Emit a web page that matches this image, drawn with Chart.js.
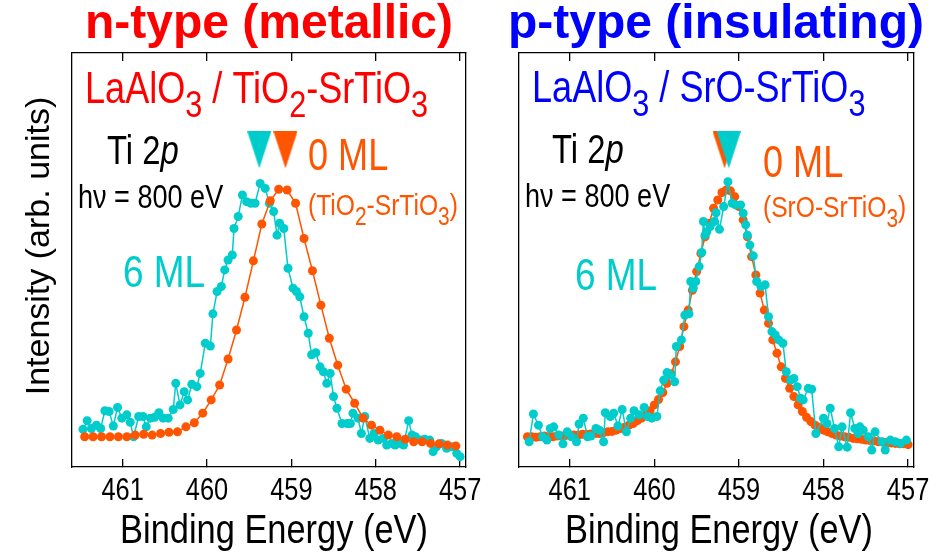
<!DOCTYPE html>
<html>
<head>
<meta charset="utf-8">
<title>Ti 2p XPS</title>
<script src="https://cdn.jsdelivr.net/npm/chart.js@4.4.1/dist/chart.umd.min.js"></script>
<style>
  body { margin: 0; background: #fff; }
  #wrap { position: relative; width: 939px; height: 555px; }
  canvas { position: absolute; top: 0; }
  #leftChart { left: 0; }
  #rightChart { left: 480px; }
</style>
</head>
<body>
<div id="wrap">
  <canvas id="leftChart" width="500" height="555"></canvas>
  <canvas id="rightChart" width="459" height="555"></canvas>
</div>
<script>
'use strict';

// tick labels on the binding energy axis
const energyTicks = [461, 460, 459, 458, 457];

// n-type panel, 0 ML (TiO2-SrTiO3)
const nZeroEnergy = [461.45, 461.35, 461.25, 461.15, 461.05, 460.95, 460.85, 460.75, 460.65, 460.55,
  460.45, 460.35, 460.25, 460.15, 460.05, 459.95, 459.85, 459.75, 459.65, 459.55,
  459.45, 459.35, 459.25, 459.15, 459.05, 458.95, 458.85, 458.75, 458.65, 458.55,
  458.45, 458.35, 458.25, 458.15, 458.05, 457.95, 457.85, 457.75, 457.65, 457.55,
  457.45, 457.35, 457.25, 457.15, 457.05];
const nZeroIntensity = [7.3, 7.3, 7.3, 7.3, 7.3, 7.3, 7.7, 7.9, 7.7, 8.1,
  8.4, 8.5, 9.7, 10.7, 13.0, 16.2, 19.8, 26.1, 33.1, 41.0,
  49.8, 58.7, 64.3, 67.1, 66.9, 63.7, 55.2, 47.4, 39.1, 31.1,
  24.6, 18.8, 15.4, 11.8, 10.1, 8.9, 7.7, 7.3, 6.7, 6.1,
  6.1, 5.7, 5.6, 5.3, 5.1];

// n-type panel, 6 ML LaAlO3
const nSixEnergy = [461.47, 461.42, 461.37, 461.31, 461.26, 461.21, 461.16, 461.11, 461.06, 461.01,
  460.95, 460.91, 460.87, 460.81, 460.76, 460.72, 460.67, 460.62, 460.57, 460.52,
  460.46, 460.40, 460.37, 460.32, 460.27, 460.23, 460.18, 460.12, 460.08, 460.02,
  459.96, 459.93, 459.88, 459.83, 459.79, 459.75, 459.70, 459.68, 459.63, 459.58,
  459.53, 459.48, 459.43, 459.37, 459.31, 459.26, 459.21, 459.17, 459.14, 459.09,
  459.04, 458.98, 458.94, 458.90, 458.85, 458.80, 458.76, 458.71, 458.66, 458.62,
  458.58, 458.54, 458.50, 458.46, 458.40, 458.34, 458.30, 458.27, 458.21, 458.17,
  458.13, 458.07, 458.02, 457.97, 457.91, 457.87, 457.81, 457.77, 457.71, 457.67,
  457.61, 457.57, 457.53, 457.47, 457.42, 457.36, 457.32, 457.28, 457.22, 457.16,
  457.10, 457.04, 457.00];
const nSixIntensity = [9.1, 11.2, 9.3, 10.1, 9.3, 13.6, 13.4, 9.9, 14.4, 11.8,
  12.6, 10.8, 7.3, 12.2, 12.2, 9.7, 11.8, 12.0, 13.1, 11.8,
  11.8, 13.9, 20.2, 15.0, 18.2, 16.2, 20.0, 19.4, 22.6, 29.9,
  29.2, 37.0, 42.4, 43.6, 47.6, 50.0, 51.2, 57.6, 60.5, 65.7,
  64.1, 63.7, 63.7, 68.5, 67.3, 63.7, 61.7, 56.0, 58.9, 57.6,
  48.0, 43.2, 42.4, 41.1, 36.3, 32.3, 27.1, 27.6, 24.2, 23.0,
  20.2, 22.6, 17.0, 14.2, 10.5, 10.5, 10.5, 13.0, 11.8, 8.1,
  12.2, 6.9, 8.1, 6.5, 6.9, 5.3, 5.7, 5.3, 5.7, 5.3,
  11.2, 7.7, 7.3, 6.5, 6.7, 6.5, 3.7, 4.9, 5.7, 4.5,
  4.9, 3.3, 2.5];

// p-type panel, 0 ML (SrO-SrTiO3)
const pZeroEnergy = [461.50, 461.45, 461.40, 461.35, 461.30, 461.25, 461.20, 461.15, 461.10, 461.05,
  461.00, 460.95, 460.90, 460.85, 460.80, 460.75, 460.70, 460.65, 460.60, 460.55,
  460.50, 460.45, 460.40, 460.35, 460.30, 460.25, 460.20, 460.15, 460.10, 460.05,
  460.00, 459.95, 459.90, 459.85, 459.80, 459.75, 459.70, 459.65, 459.60, 459.55,
  459.50, 459.45, 459.40, 459.35, 459.30, 459.25, 459.20, 459.15, 459.10, 459.05,
  459.00, 458.95, 458.90, 458.85, 458.80, 458.75, 458.70, 458.65, 458.60, 458.55,
  458.50, 458.45, 458.40, 458.35, 458.30, 458.25, 458.20, 458.15, 458.10, 458.05,
  458.00, 457.95, 457.90, 457.85, 457.80, 457.75, 457.70, 457.65, 457.60, 457.55,
  457.50, 457.45, 457.40, 457.35, 457.30, 457.25, 457.20, 457.15, 457.10, 457.05,
  457.00];
const pZeroIntensity = [7.3, 7.3, 7.2, 7.3, 7.5, 7.3, 7.3, 7.5, 7.5, 7.6,
  7.7, 7.7, 7.7, 7.9, 7.9, 8.0, 8.1, 8.1, 8.3, 8.5,
  8.6, 8.9, 9.3, 9.6, 10.1, 10.5, 11.2, 11.8, 12.6, 13.6,
  15.0, 16.3, 18.0, 20.2, 22.5, 25.4, 29.1, 33.9, 37.9, 42.7,
  47.2, 51.6, 55.6, 58.9, 62.5, 64.5, 66.3, 66.9, 66.7, 65.3,
  62.9, 59.7, 55.6, 50.8, 46.4, 42.0, 37.9, 34.7, 30.7, 27.5,
  24.2, 21.4, 19.0, 17.0, 15.0, 13.4, 12.0, 11.0, 10.1, 9.6,
  8.9, 8.5, 8.1, 7.7, 7.5, 7.3, 7.2, 6.9, 6.8, 6.7,
  6.5, 6.4, 6.3, 6.1, 6.0, 5.9, 5.8, 5.7, 5.6, 5.6,
  5.4];

// p-type panel, 6 ML LaAlO3
const pSixEnergy = [461.48, 461.43, 461.37, 461.32, 461.27, 461.23, 461.19, 461.13, 461.08, 461.03,
  460.98, 460.92, 460.89, 460.84, 460.79, 460.75, 460.69, 460.65, 460.60, 460.58,
  460.52, 460.48, 460.43, 460.38, 460.33, 460.28, 460.24, 460.18, 460.12, 460.08,
  460.03, 459.97, 459.93, 459.89, 459.85, 459.81, 459.76, 459.74, 459.68, 459.64,
  459.59, 459.57, 459.54, 459.51, 459.47, 459.44, 459.42, 459.40, 459.38, 459.34,
  459.29, 459.27, 459.23, 459.18, 459.13, 459.08, 459.04, 458.98, 458.95, 458.92,
  458.90, 458.87, 458.83, 458.79, 458.74, 458.69, 458.65, 458.61, 458.57, 458.53,
  458.48, 458.44, 458.39, 458.35, 458.31, 458.27, 458.24, 458.18, 458.14, 458.09,
  458.00, 457.96, 457.92, 457.87, 457.82, 457.78, 457.72, 457.68, 457.63, 457.59,
  457.57, 457.53, 457.47, 457.43, 457.39, 457.31, 457.27, 457.21, 457.15, 457.09,
  457.02];
const pSixIntensity = [6.1, 12.8, 10.1, 7.3, 6.5, 9.3, 9.7, 7.7, 5.6, 8.5,
  7.3, 6.1, 10.4, 11.8, 7.3, 7.5, 9.3, 8.9, 6.1, 13.1,
  12.2, 13.0, 9.9, 13.9, 8.5, 11.8, 13.6, 12.6, 14.4, 12.2,
  11.8, 12.2, 18.4, 21.0, 22.8, 22.2, 20.6, 29.1, 30.7, 36.7,
  37.0, 44.8, 43.2, 44.8, 48.4, 51.8, 59.3, 56.0, 56.8, 58.1,
  59.3, 61.4, 57.4, 62.9, 68.9, 63.7, 63.3, 63.3, 61.3, 58.5,
  56.0, 53.6, 51.0, 44.8, 43.6, 44.0, 36.3, 32.7, 31.9, 30.7,
  29.9, 23.0, 21.0, 21.4, 19.4, 16.6, 16.2, 19.0, 18.8, 8.1,
  11.8, 10.5, 14.2, 9.3, 4.9, 9.7, 4.8, 13.1, 9.3, 8.1,
  9.7, 8.9, 7.3, 4.1, 8.5, 6.1, 4.1, 6.5, 6.1, 5.7,
  6.5];

// peak markers: [6 ML, 0 ML] binding energy, and the level they sit at
const nPeakMarks = [459.38, 459.07];
const pPeakMarks = [459.12, 459.17];
const markLevel = 76.6;

const CYAN = '#00cccc';
const ORANGE = '#ff5500';
const SANS = '"Liberation Sans", Arial, sans-serif';
const NARROW_X = 0.82; // horizontal squeeze used to fake a narrow Helvetica

function toPoints(xs, ys) {
  return xs.map((x, i) => ({ x: x, y: ys[i] }));
}

function makeTriangle(color) {
  let c = document.createElement('canvas');
  c.width = 24;
  c.height = 37;
  let g = c.getContext('2d');
  g.fillStyle = color;
  g.beginPath();
  g.moveTo(0, 0);
  g.lineTo(24, 0);
  g.lineTo(12, 37);
  g.closePath();
  g.fill();
  return c;
}

function spectrum(xs, ys, color) {
  return {
    data: toPoints(xs, ys),
    showLine: true,
    borderColor: color,
    backgroundColor: color,
    borderWidth: 1.5,
    pointRadius: 4.5,
    pointBorderWidth: 0,
    pointBackgroundColor: color
  };
}

function marker(x, color) {
  return {
    data: [{ x: x, y: markLevel }],
    showLine: false,
    pointStyle: makeTriangle(color),
    pointRadius: 10,
    backgroundColor: color
  };
}

// draws a line of text made of plain, subscript and italic parts
function drawParts(ctx, item) {
  let weight = item.bold ? 'bold ' : '';
  let sx = item.sx === undefined ? NARROW_X : item.sx;
  let segs = item.parts.map(p => {
    let kind = p[1] || '';
    let size = kind === 'sub' ? item.size * 0.85 : item.size;
    let style = kind === 'i' ? 'italic ' : '';
    return { text: p[0], font: style + weight + size + 'px ' + SANS, dy: kind === 'sub' ? item.size * 0.32 : 0 };
  });
  let total = 0;
  segs.forEach(s => {
    ctx.font = s.font;
    s.w = ctx.measureText(s.text).width;
    total += s.w;
  });
  ctx.save();
  ctx.translate(item.x, item.y);
  if (item.rotate) {
    ctx.rotate(-Math.PI / 2);
  }
  ctx.scale(sx, 1);
  let x = item.align === 'center' ? -total / 2 : 0;
  ctx.fillStyle = item.color;
  ctx.textAlign = 'left';
  ctx.textBaseline = 'alphabetic';
  segs.forEach(s => {
    ctx.font = s.font;
    ctx.fillText(s.text, x, s.dy);
    x += s.w;
  });
  ctx.restore();
}

function textPlugin(items, offsetX) {
  return {
    id: 'panelText',
    afterDraw(chart) {
      let ctx = chart.ctx;
      let xScale = chart.scales.x;
      // tick labels placed by the energy scale
      energyTicks.forEach(v => {
        drawParts(ctx, { parts: [[String(v)]], x: xScale.getPixelForValue(v), y: 500, size: 31, color: '#000', align: 'center' });
      });
      items.forEach(it => drawParts(ctx, Object.assign({}, it, { x: it.x - offsetX })));
    }
  };
}

function energyAxis(position, height) {
  return {
    type: 'linear',
    position: position,
    min: 456.93,
    max: 461.6,
    reverse: true,
    afterBuildTicks: scale => {
      scale.ticks = energyTicks.map(v => ({ value: v }));
    },
    ticks: { display: false },
    grid: { display: true, drawOnChartArea: false, drawTicks: true, tickLength: -8, color: '#000', lineWidth: 1.3 },
    border: { display: true, color: '#000', width: 1.3 },
    afterFit: scale => {
      scale.height = height;
      scale.paddingLeft = 0;
      scale.paddingRight = 0;
    }
  };
}

function intensityAxis(position, width) {
  return {
    type: 'linear',
    position: position,
    min: 0,
    max: 100,
    ticks: { display: false },
    grid: { display: false },
    border: { display: true, color: '#000', width: 1.3 },
    afterFit: scale => {
      scale.width = width;
      scale.paddingTop = 0;
      scale.paddingBottom = 0;
    }
  };
}

function buildChart(canvasId, datasets, padding, yWidth, texts, offsetX) {
  return new Chart(document.getElementById(canvasId), {
    type: 'scatter',
    data: { datasets: datasets },
    options: {
      responsive: false,
      animation: false,
      devicePixelRatio: 1,
      layout: { padding: padding },
      plugins: { legend: { display: false }, tooltip: { enabled: false } },
      scales: {
        x: energyAxis('bottom', 88),
        x2: energyAxis('top', 0),
        y: intensityAxis('left', yWidth),
        y2: intensityAxis('right', 0)
      }
    },
    plugins: [textPlugin(texts, offsetX)]
  });
}

let leftTexts = [
  { parts: [['n-type (metallic)']], x: 269, y: 38, size: 48, bold: true, sx: 1, color: '#ff0000', align: 'center' },
  { parts: [['LaAlO'], ['3', 'sub'], [' / TiO'], ['2', 'sub'], ['-SrTiO'], ['3', 'sub']], x: 85, y: 103, size: 44, color: '#ff0000' },
  { parts: [['Ti 2'], ['p', 'i']], x: 107, y: 164, size: 40, color: '#000' },
  { parts: [['h\u03bd = 800 eV']], x: 78, y: 208, size: 33, color: '#000' },
  { parts: [['0 ML']], x: 308, y: 170, size: 44, color: ORANGE },
  { parts: [['(TiO'], ['2', 'sub'], ['-SrTiO'], ['3', 'sub'], [')']], x: 308, y: 215, size: 30, color: ORANGE },
  { parts: [['6 ML']], x: 123, y: 287, size: 45, color: CYAN },
  { parts: [['Binding Energy (eV)']], x: 274, y: 543, size: 40, sx: 0.86, color: '#000', align: 'center' },
  { parts: [['Intensity (arb. units)']], x: 49, y: 246, size: 34, sx: 1, rotate: true, color: '#000', align: 'center' }
];

let rightTexts = [
  { parts: [['p-type (insulating)']], x: 716, y: 38, size: 48, bold: true, sx: 1, color: '#0000ff', align: 'center' },
  { parts: [['LaAlO'], ['3', 'sub'], [' / SrO-SrTiO'], ['3', 'sub']], x: 532, y: 102, size: 44, color: '#0000ff' },
  { parts: [['Ti 2'], ['p', 'i']], x: 552, y: 163, size: 40, color: '#000' },
  { parts: [['h\u03bd = 800 eV']], x: 525, y: 207, size: 33, color: '#000' },
  { parts: [['0 ML']], x: 763, y: 177, size: 44, color: ORANGE },
  { parts: [['(SrO-SrTiO'], ['3', 'sub'], [')']], x: 763, y: 217, size: 30, color: ORANGE },
  { parts: [['6 ML']], x: 575, y: 290, size: 45, color: CYAN },
  { parts: [['Binding Energy (eV)']], x: 719, y: 543, size: 40, sx: 0.86, color: '#000', align: 'center' }
];

// Chart.js paints the first dataset on top, so list the top layer first.
// n-type: orange over cyan
buildChart('leftChart', [
  marker(nPeakMarks[1], ORANGE),
  marker(nPeakMarks[0], CYAN),
  spectrum(nZeroEnergy, nZeroIntensity, ORANGE),
  spectrum(nSixEnergy, nSixIntensity, CYAN)
], { top: 53, right: 34, bottom: 0, left: 0 }, 72, leftTexts, 0);

// p-type: cyan over orange
buildChart('rightChart', [
  marker(pPeakMarks[0], CYAN),
  marker(pPeakMarks[1], ORANGE),
  spectrum(pSixEnergy, pSixIntensity, CYAN),
  spectrum(pZeroEnergy, pZeroIntensity, ORANGE)
], { top: 53, right: 25, bottom: 0, left: 0 }, 39, rightTexts, 480);
</script>
</body>
</html>
